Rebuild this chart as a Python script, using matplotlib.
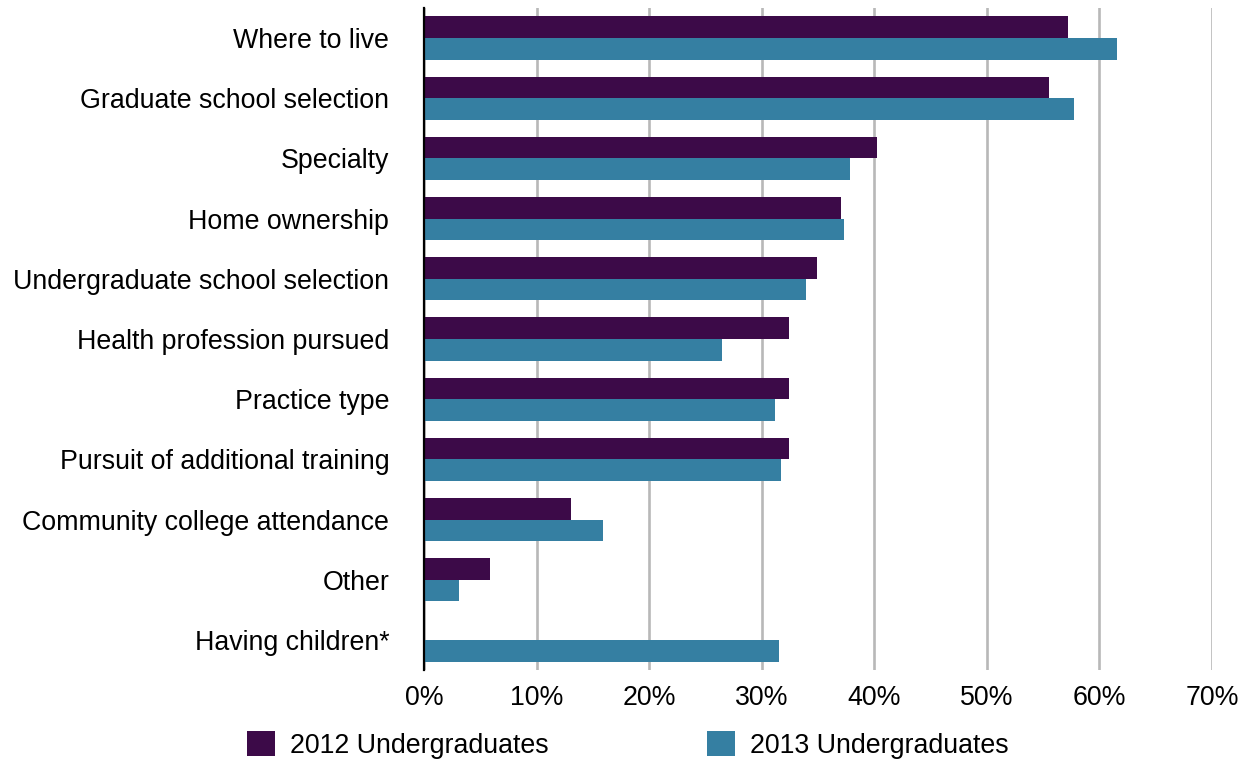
import numpy as np
import matplotlib
matplotlib.use("Agg")
import matplotlib.pyplot as plt

plt.rcParams['font.family'] = ['Liberation Sans', 'DejaVu Sans']

# survey answers, percent of respondents
categories = ["Where to live", "Graduate school selection", "Specialty",
              "Home ownership", "Undergraduate school selection",
              "Health profession pursued", "Practice type",
              "Pursuit of additional training", "Community college attendance",
              "Other", "Having children*"]
ug_2012 = [57.2, 55.5, 40.2, 37.0, 34.9, 32.4, 32.4, 32.4, 13.1, 5.9, np.nan]
ug_2013 = [61.6, 57.7, 37.8, 37.3, 33.9, 26.5, 31.2, 31.7, 15.9, 3.1, 31.5]
xticks = [0, 10, 20, 30, 40, 50, 60, 70]
series_names = ["2012 Undergraduates", "2013 Undergraduates"]

c2012 = '#3c0a48'
c2013 = '#357fa2'
fs = 19.3

fig = plt.figure(figsize=(12.49, 7.61), dpi=100)
ax = fig.add_axes([424/1249, 1 - 670/761, (1212 - 424)/1249, (670 - 8)/761])

y = np.arange(len(categories))
h = 0.36
b1 = ax.barh(y - h/2, ug_2012, height=h, color=c2012, zorder=3,
             label=series_names[0])
b2 = ax.barh(y + h/2, ug_2013, height=h, color=c2013, zorder=3,
             label=series_names[1])

ax.set_xlim(0, 70)
ax.set_ylim(len(categories) - 0.5, -0.5)
ax.set_xticks(xticks)
ax.set_xticklabels([f"{t}%" for t in xticks])
ax.set_yticks(y)
ax.set_yticklabels(categories)
ax.tick_params(axis='x', length=0, pad=11, labelsize=fs)
ax.tick_params(axis='y', length=0, pad=25, labelsize=fs)

ax.xaxis.grid(True, color='#b8b8b8', linewidth=1.9, zorder=0)
ax.set_axisbelow(True)
for side in ['top', 'right', 'bottom']:
    ax.spines[side].set_visible(False)
ax.spines['left'].set_linewidth(1.6)
ax.spines['left'].set_color('black')
ax.spines['left'].set_zorder(4)

fig.legend(handles=[b1, b2], labels=series_names, loc='center left',
           bbox_to_anchor=(247/1249, 1 - 745/761), ncol=2, frameon=False,
           fontsize=fs, handlelength=1.05, handleheight=1.05,
           handletextpad=0.55, columnspacing=5.9, borderpad=0,
           borderaxespad=0)

fig.savefig("out.png", dpi=100)
